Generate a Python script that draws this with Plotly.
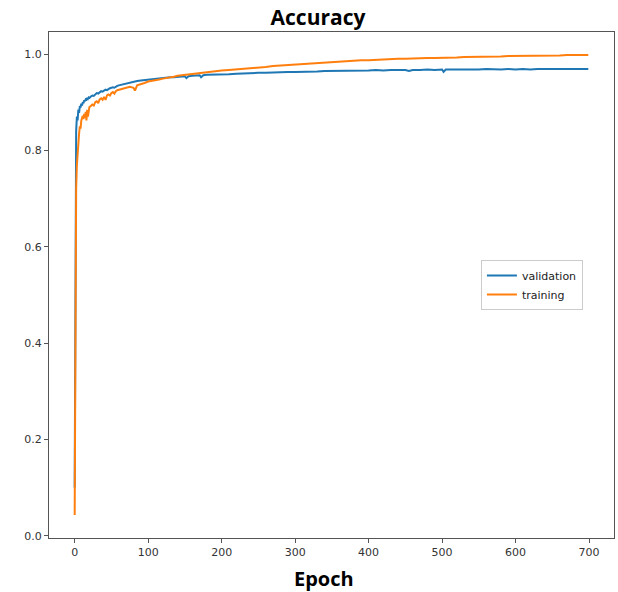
import plotly.graph_objects as go

# ---- data ----
ep_val = [0, 1, 2, 3, 4, 5, 6, 7, 8, 9, 10, 11, 12, 13, 14, 15, 16, 17, 18, 19, 20,
          22, 24, 26, 28, 30, 32, 34, 36, 38, 40, 42, 44, 46, 48, 50, 52, 54, 56, 58, 60,
          65, 70, 75, 80, 85, 90, 95, 100, 105, 110, 115, 120, 125, 130, 135, 140, 145, 150,
          152, 155, 160, 165, 170, 172, 175, 180, 185, 190, 195, 200,
          210, 220, 230, 240, 250, 260, 270, 280, 290, 300, 310, 320, 330, 340, 350, 360,
          370, 380, 390, 400, 410, 420, 430, 440, 450, 455, 460, 470, 480, 490, 500, 502,
          505, 510, 520, 530, 540, 550, 560, 570, 580, 590, 600, 610, 620, 630, 640, 650,
          660, 670, 680, 690, 699]
validation = [0.10, 0.78, 0.84, 0.87, 0.862, 0.885, 0.878, 0.892, 0.889, 0.897, 0.893, 0.900, 0.898,
              0.904, 0.902, 0.906, 0.905, 0.909, 0.907, 0.910, 0.909,
              0.912, 0.914, 0.913, 0.917, 0.919, 0.918, 0.921, 0.923, 0.922, 0.925, 0.926, 0.925,
              0.928, 0.929, 0.930, 0.931, 0.930, 0.933, 0.934, 0.935,
              0.937, 0.939, 0.941, 0.942, 0.944, 0.945, 0.946, 0.947, 0.948, 0.949, 0.950, 0.950,
              0.951, 0.952, 0.952, 0.953, 0.953, 0.954,
              0.950, 0.954, 0.955, 0.955, 0.956, 0.952, 0.956, 0.957, 0.957, 0.957, 0.958, 0.958,
              0.958, 0.959, 0.960, 0.960, 0.961, 0.961, 0.962, 0.962, 0.963, 0.963, 0.963, 0.964,
              0.964, 0.965, 0.965, 0.965, 0.966, 0.966, 0.966, 0.966, 0.967, 0.966, 0.967, 0.967,
              0.967, 0.965, 0.967, 0.967, 0.968, 0.967, 0.968, 0.963,
              0.968, 0.968, 0.968, 0.967, 0.968, 0.968, 0.969, 0.968, 0.968, 0.969, 0.968, 0.969,
              0.968, 0.969, 0.969, 0.968, 0.969, 0.969, 0.969, 0.968, 0.969, 0.969]

ep_train = [0, 1, 2, 3, 4, 5, 6, 7, 8, 9, 10, 11, 12, 13, 14, 15, 16, 17, 18, 19, 20,
            22, 24, 26, 28, 30, 32, 34, 36, 38, 40, 42, 44, 46, 48, 50, 52, 54, 56, 58, 60,
            65, 70, 75, 80, 82, 85, 90, 95, 100, 105, 110, 115, 120, 125, 130, 135, 140, 145,
            150, 155, 160, 165, 170, 175, 180, 185, 190, 195, 200,
            210, 220, 230, 240, 250, 260, 270, 280, 290, 300, 310, 320, 330, 340, 350, 360,
            370, 380, 390, 400, 410, 420, 430, 440, 450, 460, 470, 480, 490, 500, 510, 520,
            530, 540, 550, 560, 570, 580, 590, 600, 610, 620, 630, 640, 650, 660, 670, 680,
            690, 699]
training = [0.043, 0.55, 0.72, 0.77, 0.80, 0.82, 0.835, 0.850, 0.845, 0.862, 0.868, 0.872, 0.865,
            0.876, 0.868, 0.880, 0.862, 0.884, 0.870, 0.888, 0.890,
            0.892, 0.895, 0.893, 0.900, 0.902, 0.898, 0.906, 0.908, 0.905, 0.911, 0.905, 0.914,
            0.916, 0.914, 0.919, 0.921, 0.918, 0.923, 0.925, 0.926,
            0.928, 0.930, 0.932, 0.930, 0.924, 0.935, 0.937, 0.940, 0.943, 0.944, 0.946, 0.947,
            0.949, 0.950, 0.952, 0.953, 0.955, 0.956,
            0.957, 0.958, 0.959, 0.960, 0.961, 0.962, 0.962, 0.963, 0.964, 0.965, 0.966,
            0.967, 0.968, 0.969, 0.971, 0.972, 0.973, 0.975, 0.976, 0.977, 0.979, 0.979, 0.980,
            0.981, 0.982, 0.983, 0.984, 0.985, 0.986, 0.987, 0.987, 0.988, 0.989, 0.989, 0.990,
            0.990, 0.991, 0.991, 0.992, 0.992, 0.992, 0.993, 0.993, 0.994, 0.994, 0.994, 0.995,
            0.995, 0.995, 0.996, 0.996, 0.996, 0.996, 0.997, 0.997, 0.997, 0.997, 0.998, 0.998,
            0.998, 0.998]

x_ticks = [0, 100, 200, 300, 400, 500, 600, 700]
y_ticks = [0.0, 0.2, 0.4, 0.6, 0.8, 1.0]

fig = go.Figure()
fig.add_trace(go.Scatter(x=ep_val, y=validation, mode="lines", name="validation",
                         line=dict(color="#1f77b4", width=2)))
fig.add_trace(go.Scatter(x=ep_train, y=training, mode="lines", name="training",
                         line=dict(color="#ff7f0e", width=2)))

axis_common = dict(showline=True, linecolor="#555555", linewidth=1, mirror=True,
                   showgrid=False, zeroline=False, ticks="outside", ticklen=4,
                   tickcolor="#555555", tickfont=dict(family="DejaVu Sans", size=11, color="#333333"))

fig.update_layout(
    width=618, height=592,
    margin=dict(l=49, r=4, t=32, b=54),
    paper_bgcolor="white", plot_bgcolor="white",
    title=dict(text="<b>Accuracy</b>", x=318 / 618, xanchor="center",
               y=1 - 18 / 592, yanchor="middle",
               font=dict(family="Open Sans", size=21, color="black")),
    xaxis=dict(range=[-34.95, 733.95], tickvals=x_ticks, **axis_common),
    yaxis=dict(range=[-0.0048, 1.0458], tickvals=y_ticks, tickformat=".1f", **axis_common),
    legend=dict(x=0.945, xanchor="right", y=0.5, yanchor="middle",
                bgcolor="white", bordercolor="#cccccc", borderwidth=1,
                font=dict(family="DejaVu Sans", size=11, color="#222222"),
                itemwidth=30, tracegroupgap=0),
    showlegend=True,
)
fig.add_annotation(text="<b>Epoch</b>", xref="paper", yref="paper",
                   x=(324 - 49) / 565, y=-(578.5 - 537.7) / 505.7, xanchor="center", yanchor="middle",
                   showarrow=False, font=dict(family="Open Sans", size=20, color="black"))

fig.write_html("out.html", config={"displayModeBar": False},
               post_script="document.body.style.margin='0';document.body.style.padding='0';")
